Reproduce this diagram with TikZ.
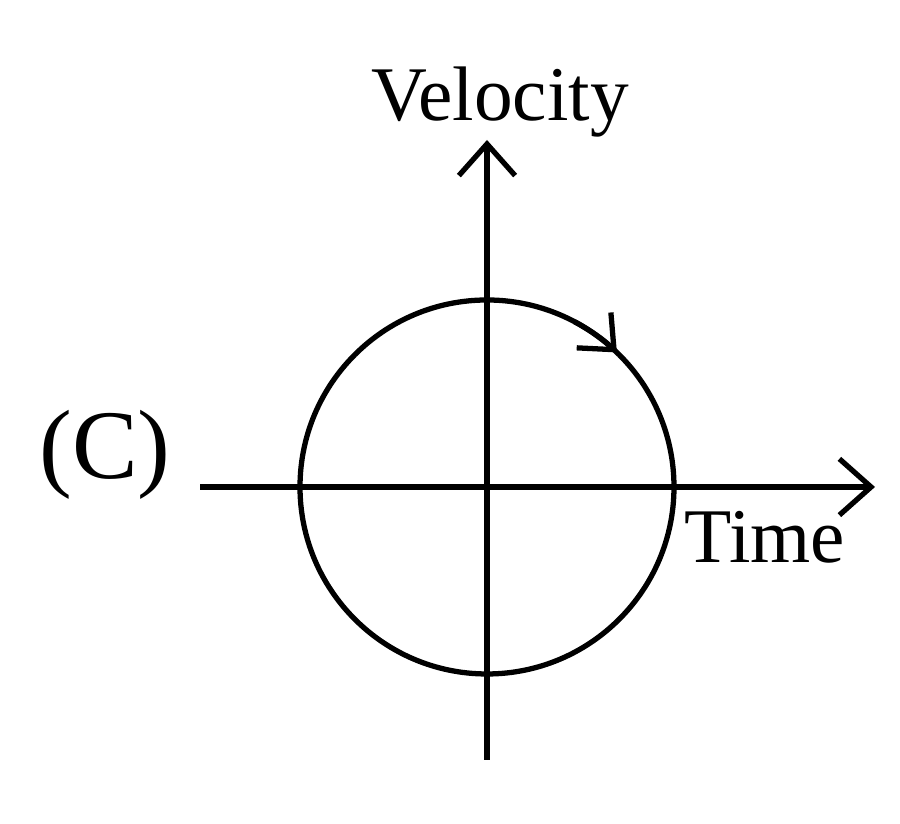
\documentclass[tikz,border=0pt]{standalone}
\usepackage{fontspec}
\setmainfont{Liberation Serif}
\usetikzlibrary{arrows.meta,calc,positioning}
\tikzset{axis/.style={line width=1.5pt,-{Straight Barb[length=9pt,width=16pt,line width=1.5pt]}},
	orbit/.style={line width=1.5pt}}

\begin{document}
\begin{tikzpicture}
	\useasboundingbox (0,0) rectangle (9,8.24);
	
	\coordinate (O) at (4.87,3.37);
	\coordinate (xl) at (2.0,3.37);
	\coordinate (xr) at (8.75,3.37);
	\coordinate (yb) at (4.87,0.64);
	\coordinate (yt) at (4.87,6.84);
	
	\draw[axis] (xl) -- (xr);
	\draw[axis] (yb) -- (yt);
	\draw[orbit] (O) circle (1.87);
	% direction of travel
	\draw[orbit,-{Straight Barb[length=8pt,width=14pt,line width=1.5pt]}]
	($(O)+(62:1.87)$) arc (62:46:1.87);
	
	\node[font=\fontsize{22}{24}\selectfont] (vel) at (5.0,7.22) {Velocity};
	\node[font=\fontsize{22}{24}\selectfont] (time) at (7.65,2.87) {Time};
	\node[font=\fontsize{28}{30}\selectfont] (lab) at (1.05,3.69) {(C)};
\end{tikzpicture}
\end{document}
